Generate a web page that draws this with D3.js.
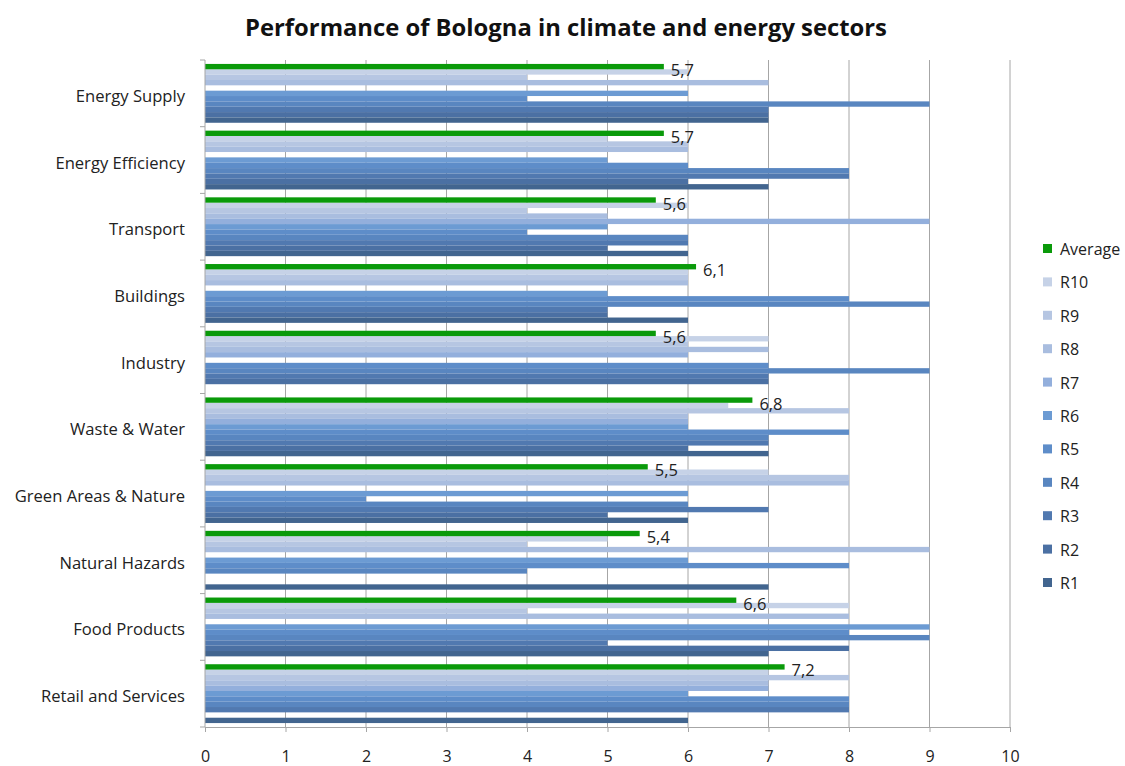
<!DOCTYPE html>
<html>
<head>
<meta charset="utf-8">
<script src="https://cdn.jsdelivr.net/npm/d3@7/dist/d3.min.js"></script>
<style>
  html, body { margin: 0; padding: 0; background: #ffffff; }
  svg { display: block; font-family: "Open Sans", "Lato", sans-serif; }
</style>
</head>
<body>
<svg id="chart" width="1125" height="766"></svg>
<script>
// Sectors, top to bottom
const categories = ["Energy Supply", "Energy Efficiency", "Transport", "Buildings", "Industry",
  "Waste & Water", "Green Areas & Nature", "Natural Hazards", "Food Products", "Retail and Services"];

// Scores per sector for each series
const average = [5.7, 5.7, 5.6, 6.1, 5.6, 6.8, 5.5, 5.4, 6.6, 7.2];
const r10 = [6, 5, 6, 6, 7, 6.5, 7, 5, 8, 7];
const r9  = [4, 6, 4, 6, 6, 8, 8, 4, 4, 8];
const r8  = [7, 6, 5, 6, 7, 6, 8, 9, 8, 7];
const r7  = [0, 0, 9, 0, 6, 6, 0, 0, 0, 7];
const r6  = [6, 5, 5, 5, 0, 6, 6, 6, 9, 6];
const r5  = [4, 6, 4, 8, 7, 8, 2, 8, 8, 8];
const r4  = [9, 8, 6, 9, 9, 7, 6, 4, 9, 8];
const r3  = [7, 8, 6, 5, 7, 7, 7, 0, 5, 8];
const r2  = [7, 6, 5, 5, 7, 6, 5, 0, 8, 0];
const r1  = [7, 7, 6, 6, 0, 7, 6, 7, 7, 6];

const seriesNames = ["Average", "R10", "R9", "R8", "R7", "R6", "R5", "R4", "R3", "R2", "R1"];
const seriesValues = [average, r10, r9, r8, r7, r6, r5, r4, r3, r2, r1];
const seriesColors = ["#0a9a0a", "#c6d2e7", "#b6c6e2", "#a9bddf", "#93afdc", "#6c9bd3",
  "#5e8dc9", "#5986c0", "#5179b0", "#4b70a3", "#42658f"];

const xTicks = [0, 1, 2, 3, 4, 5, 6, 7, 8, 9, 10];

const svg = d3.select("#chart");
const plot = { left: 205, right: 1010, top: 60, bottom: 727 };

const x = d3.scaleLinear().domain([0, 10]).range([plot.left, plot.right]);
const y = d3.scaleBand().domain(categories).range([plot.top, plot.bottom])
  .paddingInner(0.118).paddingOuter(0.059);
const ySub = d3.scaleBand().domain(seriesNames).range([0, y.bandwidth()]);

// Title
svg.append("text")
  .attr("x", 566).attr("y", 36)
  .attr("text-anchor", "middle")
  .attr("font-size", 23.8).attr("font-weight", "bold").attr("fill", "#111")
  .text("Performance of Bologna in climate and energy sectors");

// Vertical gridlines
svg.append("g").selectAll("line")
  .data(xTicks.filter(d => d > 0))
  .join("line")
  .attr("x1", d => x(d)).attr("x2", d => x(d))
  .attr("y1", plot.top).attr("y2", plot.bottom)
  .attr("stroke", "#a6a6a6").attr("stroke-width", 1);

// Bars
const rows = [];
seriesNames.forEach((s, si) => {
  categories.forEach((c, ci) => {
    rows.push({ cat: c, series: s, value: seriesValues[si][ci], color: seriesColors[si] });
  });
});

svg.append("g").selectAll("rect")
  .data(rows.filter(d => d.series !== "Average"))
  .join("rect")
  .attr("x", x(0))
  .attr("y", d => y(d.cat) + ySub(d.series))
  .attr("width", d => x(d.value) - x(0))
  .attr("height", ySub.bandwidth())
  .attr("fill", d => d.color);

svg.append("g").selectAll("rect")
  .data(rows.filter(d => d.series === "Average"))
  .join("rect")
  .attr("x", x(0))
  .attr("y", d => y(d.cat) + ySub(d.series))
  .attr("width", d => x(d.value) - x(0))
  .attr("height", ySub.bandwidth())
  .attr("fill", d => d.color);

// Value labels on the average bars
const fmt = v => d3.format(".1f")(v).replace(".", ",");
svg.append("g").selectAll("text")
  .data(rows.filter(d => d.series === "Average"))
  .join("text")
  .attr("x", d => x(d.value) + 7)
  .attr("y", d => y(d.cat) + ySub(d.series) + ySub.bandwidth() / 2 + 3)
  .attr("dominant-baseline", "central")
  .attr("font-size", 16.5).attr("fill", "#222")
  .text(d => fmt(d.value));

// Value axis
const xAxis = d3.axisBottom(x).tickValues(xTicks).tickSize(5).tickFormat(d3.format("d"));
const gx = svg.append("g").attr("transform", `translate(0,${plot.bottom})`).call(xAxis);
gx.select(".domain").attr("stroke", "#a6a6a6");
gx.selectAll(".tick line").attr("stroke", "#a6a6a6");
gx.selectAll(".tick text")
  .attr("y", 24).attr("font-size", 16).attr("fill", "#222")
  .attr("font-family", "'Open Sans', Lato, sans-serif");

// Category axis
const gy = svg.append("g");
gy.append("line")
  .attr("x1", plot.left).attr("x2", plot.left)
  .attr("y1", plot.top).attr("y2", plot.bottom)
  .attr("stroke", "#a6a6a6");
const bounds = [plot.top].concat(categories.map(c => y(c) - y.step() * y.paddingInner() / 2 + y.step()));
gy.selectAll("line.tk")
  .data(bounds)
  .join("line").attr("class", "tk")
  .attr("x1", plot.left - 5).attr("x2", plot.left)
  .attr("y1", d => d).attr("y2", d => d)
  .attr("stroke", "#a6a6a6");
gy.selectAll("text")
  .data(categories)
  .join("text")
  .attr("x", 185)
  .attr("y", d => y(d) + y.bandwidth() / 2 + 2)
  .attr("text-anchor", "end")
  .attr("dominant-baseline", "central")
  .attr("font-size", 16.6).attr("fill", "#222")
  .text(d => d);

// Legend
const legend = svg.append("g").attr("transform", "translate(1043,249)");
const li = legend.selectAll("g")
  .data(seriesNames)
  .join("g")
  .attr("transform", (d, i) => `translate(0,${i * 33.4})`);
li.append("rect")
  .attr("x", 0).attr("y", -5).attr("width", 9).attr("height", 9)
  .attr("fill", (d, i) => seriesColors[i]);
li.append("text")
  .attr("x", 17).attr("y", 0)
  .attr("dominant-baseline", "central")
  .attr("font-size", 16).attr("fill", "#222")
  .text(d => d);
</script>
</body>
</html>
